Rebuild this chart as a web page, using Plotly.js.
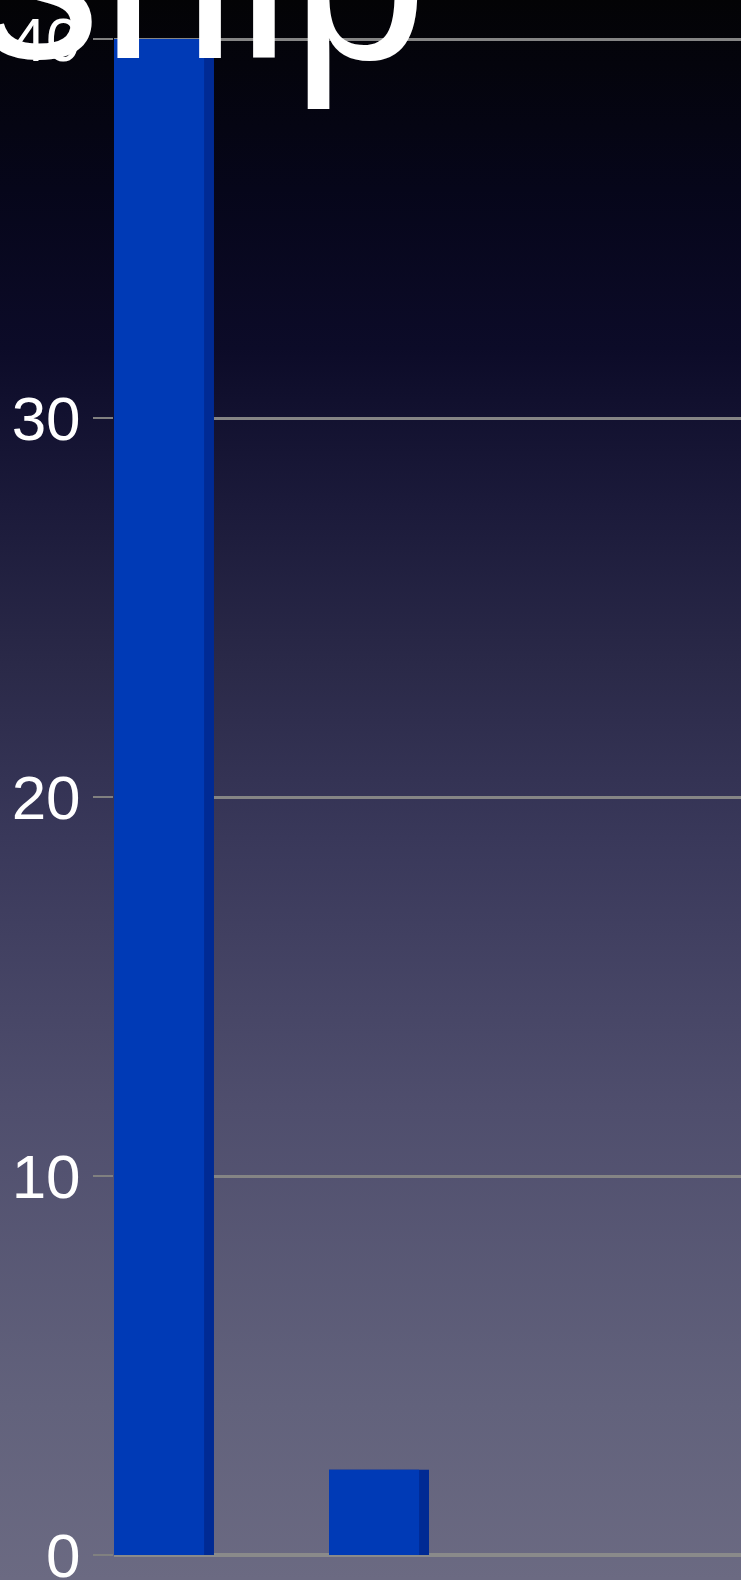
<!DOCTYPE html>
<html>
<head>
<meta charset="utf-8">
<script src="https://cdn.plot.ly/plotly-3.0.1.min.js"></script>
<style>
  html, body { margin: 0; padding: 0; background: #05050a; }
  #chart {
    width: 741px; height: 1580px;
    background: linear-gradient(to bottom, #030305 0%, #06061a 12%, #0c0b28 22%, #1b1a3a 32%, #2a2948 42%, #39385a 53%, #4f4e6d 70%, #62627c 89%, #6b6a82 100%);
  }
</style>
</head>
<body>
<div id="chart"></div>
<script>
// Data
const categories = [0, 1];
const values = [40, 2.25];
const tickValues = [0, 10, 20, 30, 40];
const tickLabels = ["0", "10", "20", "30", "40"];
const titleText = "ship";

const sideFace = {
  type: "bar",
  x: categories,
  y: values,
  width: 0.465,
  offset: -0.21,
  marker: { color: "#002a94", line: { width: 0 } },
  hoverinfo: "skip",
  showlegend: false
};
const frontFace = {
  type: "bar",
  x: categories,
  y: values,
  width: 0.419,
  offset: -0.21,
  marker: { color: "#003ab6", line: { width: 0 } },
  showlegend: false
};

const layout = {
  width: 741,
  height: 1580,
  margin: { l: 114, r: 0, t: 0, b: 25, pad: 0 },
  paper_bgcolor: "rgba(0,0,0,0)",
  plot_bgcolor: "rgba(0,0,0,0)",
  barmode: "overlay",
  showlegend: false,
  xaxis: {
    range: [-0.21, 2.706],
    showticklabels: false,
    showgrid: false,
    zeroline: false,
    ticks: "",
    showline: false
  },
  yaxis: {
    range: [0, 41.03],
    tickvals: tickValues,
    ticktext: tickLabels,
    ticks: "outside",
    ticklen: 20,
    tickwidth: 2,
    tickcolor: "#808080",
    ticklabelstandoff: 0,
    ticklabeloverflow: "allow",
    tickfont: { family: "Liberation Sans", size: 62, color: "#ffffff" },
    showgrid: true,
    gridcolor: "#858585",
    gridwidth: 3,
    zeroline: true,
    zerolinecolor: "#8a8a8a",
    zerolinewidth: 4,
    showline: false
  },
  annotations: [{
    text: titleText,
    xref: "paper", yref: "paper",
    x: 0, y: 1,
    xanchor: "left", yanchor: "top",
    xshift: -138, yshift: 166,
    showarrow: false,
    font: { family: "Liberation Sans", size: 245, color: "#ffffff" }
  }]
};

Plotly.newPlot("chart", [sideFace, frontFace], layout, { displayModeBar: false, staticPlot: true });
</script>
</body>
</html>
